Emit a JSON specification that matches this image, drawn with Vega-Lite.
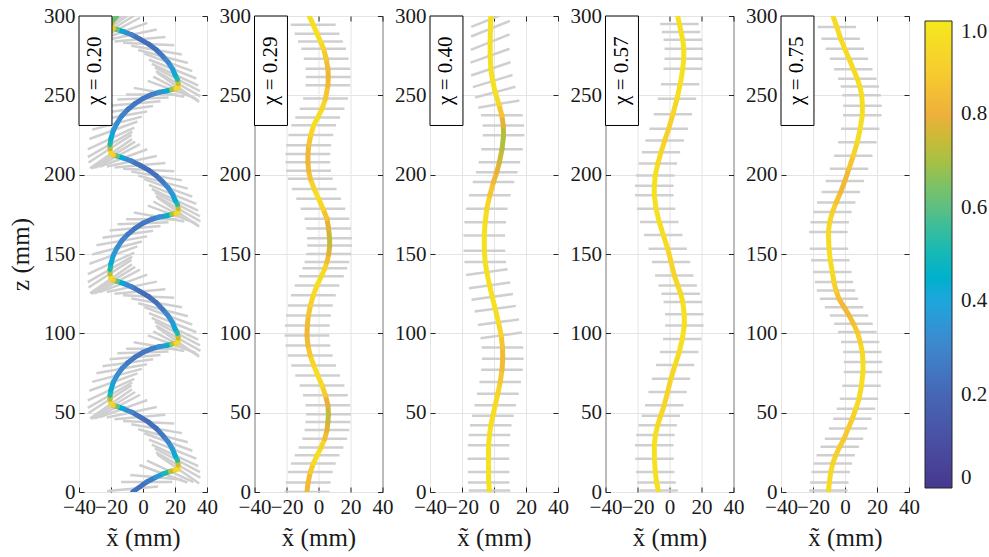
{
"$schema": "https://vega.github.io/schema/vega-lite/v6.json",
"background": "white",
"padding": {"left": 8, "top": 4, "right": 2, "bottom": 2},
"config": {
  "font": "Liberation Serif, Times New Roman, Times, DejaVu Serif, serif",
  "view": {"stroke": "#262626", "strokeWidth": 1},
  "axis": {"labelFont": "Liberation Serif, Times New Roman, Times, DejaVu Serif, serif", "labelFontSize": 21, "labelColor": "#1a1a1a", "titleFont": "Liberation Serif, Times New Roman, Times, DejaVu Serif, serif", "titleFontSize": 25, "titleFontWeight": "normal", "titleColor": "#1a1a1a", "gridColor": "#e4e4e4", "gridWidth": 1, "domain": false, "tickColor": "#262626", "tickSize": -5, "labelPadding": 9, "labelFlush": false, "labelOverlap": false},
  "legend": {"labelFont": "Liberation Serif, Times New Roman, Times, DejaVu Serif, serif", "labelFontSize": 21, "labelColor": "#1a1a1a"},
  "text": {"font": "Liberation Serif, Times New Roman, Times, DejaVu Serif, serif"}
},
"datasets": {
"c1": [
{"x":-6.5,"z":0,"x2":2.3,"z2":6.3,"c":0.23},{"x":2.3,"z":6.3,"x2":8,"z2":9.3,"c":0.27},{"x":8,"z":9.3,"x2":12.7,"z2":11.5,"c":0.36},{"x":12.7,"z":11.5,"x2":17,"z2":13,"c":0.51},{"x":17,"z":13,"x2":20,"z2":13.8,"c":0.72},{"x":20,"z":13.8,"x2":22,"z2":14.5,"c":0.92},
{"x":22,"z":14.5,"x2":22,"z2":17,"c":0.95},{"x":22,"z":17,"x2":21.5,"z2":20,"c":0.75},{"x":21.5,"z":20,"x2":20,"z2":23.1,"c":0.52},{"x":20,"z":23.1,"x2":18.5,"z2":27,"c":0.41},{"x":18.5,"z":27,"x2":15.8,"z2":31.5,"c":0.35},{"x":15.8,"z":31.5,"x2":12.5,"z2":35.5,"c":0.3},{"x":12.5,"z":35.5,"x2":8.5,"z2":39.9,"c":0.26},{"x":8.5,"z":39.9,"x2":3.5,"z2":44,"c":0.23},{"x":3.5,"z":44,"x2":-1.9,"z2":47.3,"c":0.22},{"x":-1.9,"z":47.3,"x2":-7,"z2":50.3,"c":0.24},{"x":-7,"z":50.3,"x2":-12.3,"z2":52.5,"c":0.3},{"x":-12.3,"z":52.5,"x2":-16,"z2":53.8,"c":0.42},{"x":-16,"z":53.8,"x2":-18.5,"z2":54.5,"c":0.62},{"x":-18.5,"z":54.5,"x2":-20,"z2":55.5,"c":0.88},
{"x":-20,"z":55.5,"x2":-20.6,"z2":58.5,"c":0.92},{"x":-20.6,"z":58.5,"x2":-20.6,"z2":61,"c":0.72},{"x":-20.6,"z":61,"x2":-20,"z2":64.5,"c":0.52},{"x":-20,"z":64.5,"x2":-18.5,"z2":69.3,"c":0.41},{"x":-18.5,"z":69.3,"x2":-16.2,"z2":73.5,"c":0.36},{"x":-16.2,"z":73.5,"x2":-13.3,"z2":77.7,"c":0.32},{"x":-13.3,"z":77.7,"x2":-9.5,"z2":81.5,"c":0.29},{"x":-9.5,"z":81.5,"x2":-5,"z2":85,"c":0.26},{"x":-5,"z":85,"x2":0,"z2":88,"c":0.25},{"x":0,"z":88,"x2":5.4,"z2":90.3,"c":0.26},{"x":5.4,"z":90.3,"x2":10,"z2":91.6,"c":0.28},{"x":10,"z":91.6,"x2":14.8,"z2":92.4,"c":0.34},{"x":14.8,"z":92.4,"x2":18,"z2":93.2,"c":0.46},{"x":18,"z":93.2,"x2":20.5,"z2":93.8,"c":0.7},{"x":20.5,"z":93.8,"x2":22,"z2":94.5,"c":0.92},
{"x":22,"z":94.5,"x2":22,"z2":96.9,"c":0.95},{"x":22,"z":96.9,"x2":21.5,"z2":99.9,"c":0.75},{"x":21.5,"z":99.9,"x2":20,"z2":102.9,"c":0.52},{"x":20,"z":102.9,"x2":18.5,"z2":106.7,"c":0.41},{"x":18.5,"z":106.7,"x2":15.8,"z2":111,"c":0.35},{"x":15.8,"z":111,"x2":12.5,"z2":114.9,"c":0.3},{"x":12.5,"z":114.9,"x2":8.5,"z2":119.2,"c":0.26},{"x":8.5,"z":119.2,"x2":3.5,"z2":123.2,"c":0.23},{"x":3.5,"z":123.2,"x2":-1.9,"z2":126.4,"c":0.22},{"x":-1.9,"z":126.4,"x2":-7,"z2":129.3,"c":0.24},{"x":-7,"z":129.3,"x2":-12.3,"z2":131.5,"c":0.3},{"x":-12.3,"z":131.5,"x2":-16,"z2":132.7,"c":0.42},{"x":-16,"z":132.7,"x2":-18.5,"z2":133.4,"c":0.62},{"x":-18.5,"z":133.4,"x2":-20,"z2":134.4,"c":0.88},
{"x":-20,"z":134.4,"x2":-20.6,"z2":137.6,"c":0.92},{"x":-20.6,"z":137.6,"x2":-20.6,"z2":140.3,"c":0.72},{"x":-20.6,"z":140.3,"x2":-20,"z2":144.1,"c":0.52},{"x":-20,"z":144.1,"x2":-18.5,"z2":149.3,"c":0.41},{"x":-18.5,"z":149.3,"x2":-16.2,"z2":153.8,"c":0.36},{"x":-16.2,"z":153.8,"x2":-13.3,"z2":158.3,"c":0.32},{"x":-13.3,"z":158.3,"x2":-9.5,"z2":162.4,"c":0.29},{"x":-9.5,"z":162.4,"x2":-5,"z2":166.2,"c":0.26},{"x":-5,"z":166.2,"x2":0,"z2":169.4,"c":0.25},{"x":0,"z":169.4,"x2":5.4,"z2":171.9,"c":0.26},{"x":5.4,"z":171.9,"x2":10,"z2":173.3,"c":0.28},{"x":10,"z":173.3,"x2":14.8,"z2":174.1,"c":0.34},{"x":14.8,"z":174.1,"x2":18,"z2":175,"c":0.46},{"x":18,"z":175,"x2":20.5,"z2":175.6,"c":0.7},{"x":20.5,"z":175.6,"x2":22,"z2":176.4,"c":0.92},
{"x":22,"z":176.4,"x2":22,"z2":178.6,"c":0.95},{"x":22,"z":178.6,"x2":21.5,"z2":181.3,"c":0.75},{"x":21.5,"z":181.3,"x2":20,"z2":184.1,"c":0.52},{"x":20,"z":184.1,"x2":18.5,"z2":187.6,"c":0.41},{"x":18.5,"z":187.6,"x2":15.8,"z2":191.7,"c":0.35},{"x":15.8,"z":191.7,"x2":12.5,"z2":195.3,"c":0.3},{"x":12.5,"z":195.3,"x2":8.5,"z2":199.2,"c":0.26},{"x":8.5,"z":199.2,"x2":3.5,"z2":202.9,"c":0.23},{"x":3.5,"z":202.9,"x2":-1.9,"z2":205.9,"c":0.22},{"x":-1.9,"z":205.9,"x2":-7,"z2":208.5,"c":0.24},{"x":-7,"z":208.5,"x2":-12.3,"z2":210.5,"c":0.3},{"x":-12.3,"z":210.5,"x2":-16,"z2":211.7,"c":0.42},{"x":-16,"z":211.7,"x2":-18.5,"z2":212.3,"c":0.62},{"x":-18.5,"z":212.3,"x2":-20,"z2":213.2,"c":0.88},
{"x":-20,"z":213.2,"x2":-20.6,"z2":216.4,"c":0.92},{"x":-20.6,"z":216.4,"x2":-20.6,"z2":219.1,"c":0.72},{"x":-20.6,"z":219.1,"x2":-20,"z2":222.8,"c":0.52},{"x":-20,"z":222.8,"x2":-18.5,"z2":228,"c":0.41},{"x":-18.5,"z":228,"x2":-16.2,"z2":232.5,"c":0.36},{"x":-16.2,"z":232.5,"x2":-13.3,"z2":237,"c":0.32},{"x":-13.3,"z":237,"x2":-9.5,"z2":241.1,"c":0.29},{"x":-9.5,"z":241.1,"x2":-5,"z2":244.8,"c":0.26},{"x":-5,"z":244.8,"x2":0,"z2":248,"c":0.25},{"x":0,"z":248,"x2":5.4,"z2":250.5,"c":0.26},{"x":5.4,"z":250.5,"x2":10,"z2":251.9,"c":0.28},{"x":10,"z":251.9,"x2":14.8,"z2":252.8,"c":0.34},{"x":14.8,"z":252.8,"x2":18,"z2":253.6,"c":0.46},{"x":18,"z":253.6,"x2":20.5,"z2":254.3,"c":0.7},{"x":20.5,"z":254.3,"x2":22,"z2":255,"c":0.92},
{"x":22,"z":255,"x2":22,"z2":257.3,"c":0.95},{"x":22,"z":257.3,"x2":21.5,"z2":260.1,"c":0.75},{"x":21.5,"z":260.1,"x2":20,"z2":263,"c":0.52},{"x":20,"z":263,"x2":18.5,"z2":266.6,"c":0.41},{"x":18.5,"z":266.6,"x2":15.8,"z2":270.8,"c":0.35},{"x":15.8,"z":270.8,"x2":12.5,"z2":274.5,"c":0.3},{"x":12.5,"z":274.5,"x2":8.5,"z2":278.5,"c":0.26},{"x":8.5,"z":278.5,"x2":3.5,"z2":282.3,"c":0.23},{"x":3.5,"z":282.3,"x2":-1.9,"z2":285.4,"c":0.22},{"x":-1.9,"z":285.4,"x2":-7,"z2":288.2,"c":0.24},{"x":-7,"z":288.2,"x2":-12.3,"z2":290.2,"c":0.3},{"x":-12.3,"z":290.2,"x2":-16,"z2":291.4,"c":0.42},{"x":-16,"z":291.4,"x2":-18.5,"z2":292.1,"c":0.62},{"x":-18.5,"z":292.1,"x2":-20,"z2":293,"c":0.88},
{"x":-20,"z":293,"x2":-19.5,"z2":295.5,"c":0.9},{"x":-19.5,"z":295.5,"x2":-18,"z2":298,"c":0.72},{"x":-18,"z":298,"x2":-16.5,"z2":300,"c":0.62}
],
"g1": [
{"x":-22.4,"z":0.6,"x2":9.4,"z2":3.4},{"x":-13.7,"z":6.3,"x2":18.3,"z2":6.3},{"x":-8,"z":10.7,"x2":24,"z2":7.9},{"x":-2.3,"z":17,"x2":27.7,"z2":6},{"x":2.5,"z":19.8,"x2":31.5,"z2":6.2},
{"x":8.9,"z":23.7,"x2":35.1,"z2":5.3},{"x":8.1,"z":25,"x2":35.9,"z2":9},{"x":5.5,"z":29.9,"x2":34.5,"z2":16.3},{"x":0.8,"z":37,"x2":30.8,"z2":26},{"x":-7.3,"z":42.7,"x2":24.3,"z2":37.1},{"x":-17.8,"z":45.9,"x2":14,"z2":48.7},{"x":-27.3,"z":47,"x2":2.7,"z2":58},{"x":-33.1,"z":46.3,"x2":-6.9,"z2":64.7},
{"x":7.4,"z":27.5,"x2":35.6,"z2":12.5},{"x":3.7,"z":33,"x2":33.3,"z2":21},{"x":-3,"z":39.6,"x2":28,"z2":31.4},{"x":-12.5,"z":44.8,"x2":19.5,"z2":43.2},{"x":-22.6,"z":47,"x2":8.6,"z2":53.6},{"x":-30.1,"z":46.3,"x2":-1.9,"z2":61.3},{"x":-32.1,"z":46,"x2":-4.9,"z2":63},
{"x":-34.5,"z":53,"x2":-6.7,"z2":69},{"x":-33.5,"z":63.8,"x2":-3.5,"z2":74.8},{"x":-29.1,"z":74.9,"x2":2.5,"z2":80.5},{"x":-20.9,"z":83.6,"x2":10.9,"z2":86.4},{"x":-10.6,"z":90.3,"x2":21.4,"z2":90.3},{"x":3,"z":98.7,"x2":33,"z2":87.7},
{"x":-34,"z":49.8,"x2":-7.2,"z2":67.2},{"x":-34.5,"z":57.7,"x2":-5.5,"z2":71.3},{"x":-31.7,"z":69.4,"x2":-0.7,"z2":77.6},{"x":-25.3,"z":79.3,"x2":6.3,"z2":83.7},{"x":-16,"z":87.4,"x2":16,"z2":88.6},{"x":-5.8,"z":94.4,"x2":25.8,"z2":88.8},{"x":6.4,"z":101.3,"x2":34.6,"z2":86.3},
{"x":8.9,"z":103.7,"x2":35.1,"z2":85.3},{"x":8.1,"z":104.9,"x2":35.9,"z2":88.9},{"x":5.5,"z":109.7,"x2":34.5,"z2":96.1},{"x":0.8,"z":116.5,"x2":30.8,"z2":105.5},{"x":-7.3,"z":122,"x2":24.3,"z2":116.4},{"x":-17.8,"z":125,"x2":14,"z2":127.8},{"x":-27.3,"z":126,"x2":2.7,"z2":137},{"x":-33.1,"z":125.2,"x2":-6.9,"z2":143.6},
{"x":7.4,"z":107.4,"x2":35.6,"z2":92.4},{"x":3.7,"z":112.7,"x2":33.3,"z2":100.7},{"x":-3,"z":119,"x2":28,"z2":110.8},{"x":-12.5,"z":124,"x2":19.5,"z2":122.4},{"x":-22.6,"z":126,"x2":8.6,"z2":132.6},{"x":-30.1,"z":125.2,"x2":-1.9,"z2":140.2},{"x":-32.1,"z":124.9,"x2":-4.9,"z2":141.9},
{"x":-34.5,"z":132.3,"x2":-6.7,"z2":148.3},{"x":-33.5,"z":143.8,"x2":-3.5,"z2":154.8},{"x":-29.1,"z":155.5,"x2":2.5,"z2":161.1},{"x":-20.9,"z":164.8,"x2":10.9,"z2":167.6},{"x":-10.6,"z":171.9,"x2":21.4,"z2":171.9},{"x":3,"z":180.5,"x2":33,"z2":169.5},
{"x":-34,"z":128.9,"x2":-7.2,"z2":146.3},{"x":-34.5,"z":137.3,"x2":-5.5,"z2":150.9},{"x":-31.7,"z":149.7,"x2":-0.7,"z2":157.9},{"x":-25.3,"z":160.2,"x2":6.3,"z2":164.6},{"x":-16,"z":168.8,"x2":16,"z2":170},{"x":-5.8,"z":176.1,"x2":25.8,"z2":170.5},{"x":6.4,"z":183.1,"x2":34.6,"z2":168.1},
{"x":8.9,"z":185.6,"x2":35.1,"z2":167.2},{"x":8.1,"z":186.6,"x2":35.9,"z2":170.6},{"x":5.5,"z":190.9,"x2":34.5,"z2":177.3},{"x":0.8,"z":197.2,"x2":30.8,"z2":186.2},{"x":-7.3,"z":202,"x2":24.3,"z2":196.4},{"x":-17.8,"z":204.5,"x2":14,"z2":207.3},{"x":-27.3,"z":205,"x2":2.7,"z2":216},{"x":-33.1,"z":204,"x2":-6.9,"z2":222.4},
{"x":7.4,"z":188.8,"x2":35.6,"z2":173.8},{"x":3.7,"z":193.6,"x2":33.3,"z2":181.6},{"x":-3,"z":199.4,"x2":28,"z2":191.2},{"x":-12.5,"z":203.7,"x2":19.5,"z2":202.1},{"x":-22.6,"z":205.2,"x2":8.6,"z2":211.8},{"x":-30.1,"z":204.2,"x2":-1.9,"z2":219.2},{"x":-32.1,"z":203.8,"x2":-4.9,"z2":220.8},
{"x":-34.5,"z":211.1,"x2":-6.7,"z2":227.1},{"x":-33.5,"z":222.5,"x2":-3.5,"z2":233.5},{"x":-29.1,"z":234.2,"x2":2.5,"z2":239.8},{"x":-20.9,"z":243.4,"x2":10.9,"z2":246.2},{"x":-10.6,"z":250.5,"x2":21.4,"z2":250.5},{"x":3,"z":259.1,"x2":33,"z2":248.1},
{"x":-34,"z":207.7,"x2":-7.2,"z2":225.1},{"x":-34.5,"z":216,"x2":-5.5,"z2":229.6},{"x":-31.7,"z":228.4,"x2":-0.7,"z2":236.6},{"x":-25.3,"z":238.9,"x2":6.3,"z2":243.3},{"x":-16,"z":247.4,"x2":16,"z2":248.6},{"x":-5.8,"z":254.7,"x2":25.8,"z2":249.1},{"x":6.4,"z":261.8,"x2":34.6,"z2":246.8},
{"x":8.9,"z":264.2,"x2":35.1,"z2":245.8},{"x":8.1,"z":265.3,"x2":35.9,"z2":249.3},{"x":5.5,"z":269.8,"x2":34.5,"z2":256.2},{"x":0.8,"z":276.3,"x2":30.8,"z2":265.3},{"x":-7.3,"z":281.3,"x2":24.3,"z2":275.7},{"x":-17.8,"z":284,"x2":14,"z2":286.8},{"x":-27.3,"z":284.7,"x2":2.7,"z2":295.7},{"x":-33.1,"z":283.8,"x2":-6.9,"z2":302.2},
{"x":7.4,"z":267.6,"x2":35.6,"z2":252.6},{"x":3.7,"z":272.6,"x2":33.3,"z2":260.6},{"x":-3,"z":278.6,"x2":28,"z2":270.4},{"x":-12.5,"z":283.1,"x2":19.5,"z2":281.5},{"x":-22.6,"z":284.9,"x2":8.6,"z2":291.5},{"x":-30.1,"z":283.9,"x2":-1.9,"z2":298.9},{"x":-32.1,"z":283.6,"x2":-4.9,"z2":300.6},
{"x":-32.9,"z":286.8,"x2":-6.1,"z2":304.2},{"x":-31.9,"z":290,"x2":-4.1,"z2":306}
],
"c2": [
{"x":-7.2,"z":0,"x2":-6.5,"z2":6,"c":0.83},{"x":-6.5,"z":6,"x2":-5.1,"z2":12.6,"c":0.84},{"x":-5.1,"z":12.6,"x2":-3.2,"z2":18,"c":0.89},{"x":-3.2,"z":18,"x2":-0.9,"z2":23.1,"c":0.94},{"x":-0.9,"z":23.1,"x2":1.6,"z2":28,"c":0.96},{"x":1.6,"z":28,"x2":3.9,"z2":33.6,"c":0.92},{"x":3.9,"z":33.6,"x2":5.3,"z2":39,"c":0.84},{"x":5.3,"z":39,"x2":5.9,"z2":44.1,"c":0.78},{"x":5.9,"z":44.1,"x2":6.2,"z2":49,"c":0.74},{"x":6.2,"z":49,"x2":5.9,"z2":54.6,"c":0.74},{"x":5.9,"z":54.6,"x2":4.3,"z2":61,"c":0.8},{"x":4.3,"z":61,"x2":2.2,"z2":67.2,"c":0.89},{"x":2.2,"z":67.2,"x2":-0.5,"z2":73.5,"c":0.95},{"x":-0.5,"z":73.5,"x2":-3,"z2":79.8,"c":0.96},{"x":-3,"z":79.8,"x2":-5.2,"z2":86,"c":0.93},{"x":-5.2,"z":86,"x2":-6.6,"z2":92.4,"c":0.88},{"x":-6.6,"z":92.4,"x2":-7.2,"z2":98.7,"c":0.84},{"x":-7.2,"z":98.7,"x2":-7,"z2":105,"c":0.82},{"x":-7,"z":105,"x2":-6.3,"z2":111.3,"c":0.84},{"x":-6.3,"z":111.3,"x2":-5.1,"z2":117.6,"c":0.87},{"x":-5.1,"z":117.6,"x2":-3.2,"z2":124,"c":0.91},{"x":-3.2,"z":124,"x2":-0.9,"z2":130.2,"c":0.95},{"x":-0.9,"z":130.2,"x2":1.8,"z2":136,"c":0.96},{"x":1.8,"z":136,"x2":4,"z2":141,"c":0.95},{"x":4,"z":141,"x2":5.3,"z2":145,"c":0.91},{"x":5.3,"z":145,"x2":6.4,"z2":150,"c":0.84},{"x":6.4,"z":150,"x2":7,"z2":155.4,"c":0.78},{"x":7,"z":155.4,"x2":6.9,"z2":160,"c":0.74},{"x":6.9,"z":160,"x2":6.3,"z2":166,"c":0.75},{"x":6.3,"z":166,"x2":5.3,"z2":172.2,"c":0.79},{"x":5.3,"z":172.2,"x2":2.8,"z2":178.5,"c":0.86},{"x":2.8,"z":178.5,"x2":0.1,"z2":184.8,"c":0.93},{"x":0.1,"z":184.8,"x2":-2.7,"z2":191,"c":0.96},{"x":-2.7,"z":191,"x2":-5.1,"z2":197.4,"c":0.92},{"x":-5.1,"z":197.4,"x2":-6.2,"z2":202.5,"c":0.86},{"x":-6.2,"z":202.5,"x2":-6.6,"z2":207.9,"c":0.83},{"x":-6.6,"z":207.9,"x2":-6.6,"z2":213,"c":0.82},{"x":-6.6,"z":213,"x2":-6.1,"z2":218.5,"c":0.83},{"x":-6.1,"z":218.5,"x2":-4.8,"z2":225,"c":0.87},{"x":-4.8,"z":225,"x2":-3,"z2":231.1,"c":0.93},{"x":-3,"z":231.1,"x2":-0.5,"z2":236,"c":0.96},{"x":-0.5,"z":236,"x2":2.2,"z2":241.5,"c":0.96},{"x":2.2,"z":241.5,"x2":4.4,"z2":248,"c":0.93},{"x":4.4,"z":248,"x2":5.9,"z2":256.3,"c":0.87},{"x":5.9,"z":256.3,"x2":6.1,"z2":261.5,"c":0.83},{"x":6.1,"z":261.5,"x2":5.9,"z2":266.7,"c":0.82},{"x":5.9,"z":266.7,"x2":4.8,"z2":273,"c":0.84},{"x":4.8,"z":273,"x2":3.2,"z2":279.3,"c":0.88},{"x":3.2,"z":279.3,"x2":1.2,"z2":284,"c":0.93},{"x":1.2,"z":284,"x2":-0.9,"z2":288.8,"c":0.96},{"x":-0.9,"z":288.8,"x2":-3.3,"z2":294.5,"c":0.97},{"x":-3.3,"z":294.5,"x2":-5.8,"z2":300,"c":0.96}
],
"g2": [
{"x":-21.2,"z":0,"x2":6.8,"z2":0},{"x":-20.5,"z":6,"x2":7.5,"z2":6},{"x":-19.1,"z":12.6,"x2":8.9,"z2":12.6},{"x":-17.2,"z":18,"x2":10.8,"z2":18},{"x":-14.9,"z":23.1,"x2":13.1,"z2":23.1},{"x":-12.4,"z":28,"x2":15.6,"z2":28},{"x":-10.1,"z":33.6,"x2":17.9,"z2":33.6},{"x":-8.7,"z":39,"x2":19.3,"z2":39},{"x":-8.1,"z":44.1,"x2":19.9,"z2":44.1},{"x":-7.8,"z":49,"x2":20.2,"z2":49},{"x":-8.1,"z":54.6,"x2":19.9,"z2":54.6},{"x":-9.7,"z":61,"x2":18.3,"z2":61},{"x":-11.8,"z":67.2,"x2":16.2,"z2":67.2},{"x":-14.5,"z":73.5,"x2":13.5,"z2":73.5},{"x":-17,"z":79.8,"x2":11,"z2":79.8},{"x":-19.2,"z":86,"x2":8.8,"z2":86},{"x":-20.6,"z":92.4,"x2":7.4,"z2":92.4},{"x":-21.2,"z":98.7,"x2":6.8,"z2":98.7},{"x":-21,"z":105,"x2":7,"z2":105},{"x":-20.3,"z":111.3,"x2":7.7,"z2":111.3},{"x":-19.1,"z":117.6,"x2":8.9,"z2":117.6},{"x":-17.2,"z":124,"x2":10.8,"z2":124},{"x":-14.9,"z":130.2,"x2":13.1,"z2":130.2},{"x":-12.2,"z":136,"x2":15.8,"z2":136},{"x":-10,"z":141,"x2":18,"z2":141},{"x":-8.7,"z":145,"x2":19.3,"z2":145},{"x":-7.6,"z":150,"x2":20.4,"z2":150},{"x":-7,"z":155.4,"x2":21,"z2":155.4},{"x":-7.1,"z":160,"x2":20.9,"z2":160},{"x":-7.7,"z":166,"x2":20.3,"z2":166},{"x":-8.7,"z":172.2,"x2":19.3,"z2":172.2},{"x":-11.2,"z":178.5,"x2":16.8,"z2":178.5},{"x":-13.9,"z":184.8,"x2":14.1,"z2":184.8},{"x":-16.7,"z":191,"x2":11.3,"z2":191},{"x":-19.1,"z":197.4,"x2":8.9,"z2":197.4},{"x":-20.2,"z":202.5,"x2":7.8,"z2":202.5},{"x":-20.6,"z":207.9,"x2":7.4,"z2":207.9},{"x":-20.6,"z":213,"x2":7.4,"z2":213},{"x":-20.1,"z":218.5,"x2":7.9,"z2":218.5},{"x":-18.8,"z":225,"x2":9.2,"z2":225},{"x":-17,"z":231.1,"x2":11,"z2":231.1},{"x":-14.5,"z":236,"x2":13.5,"z2":236},{"x":-11.8,"z":241.5,"x2":16.2,"z2":241.5},{"x":-9.6,"z":248,"x2":18.4,"z2":248},{"x":-8.1,"z":256.3,"x2":19.9,"z2":256.3},{"x":-7.9,"z":261.5,"x2":20.1,"z2":261.5},{"x":-8.1,"z":266.7,"x2":19.9,"z2":266.7},{"x":-9.2,"z":273,"x2":18.8,"z2":273},{"x":-10.8,"z":279.3,"x2":17.2,"z2":279.3},{"x":-12.8,"z":284,"x2":15.2,"z2":284},{"x":-14.9,"z":288.8,"x2":13.1,"z2":288.8},{"x":-17.3,"z":294.5,"x2":10.7,"z2":294.5}
],
"c3": [
{"x":-2.8,"z":0,"x2":-3.3,"z2":6,"c":0.97},{"x":-3.3,"z":6,"x2":-3.4,"z2":12.6,"c":0.97},{"x":-3.4,"z":12.6,"x2":-3.5,"z2":21,"c":0.97},{"x":-3.5,"z":21,"x2":-3.4,"z2":29.4,"c":0.97},{"x":-3.4,"z":29.4,"x2":-2.8,"z2":36,"c":0.97},{"x":-2.8,"z":36,"x2":-2,"z2":42,"c":0.97},{"x":-2,"z":42,"x2":-0.7,"z2":48,"c":0.965},{"x":-0.7,"z":48,"x2":0.75,"z2":54.6,"c":0.955},{"x":0.75,"z":54.6,"x2":2.4,"z2":62,"c":0.945},{"x":2.4,"z":62,"x2":3.9,"z2":69.3,"c":0.92},{"x":3.9,"z":69.3,"x2":5,"z2":77,"c":0.875},{"x":5,"z":77,"x2":5.5,"z2":84,"c":0.835},{"x":5.5,"z":84,"x2":5.3,"z2":91,"c":0.83},{"x":5.3,"z":91,"x2":4.5,"z2":98.7,"c":0.87},{"x":4.5,"z":98.7,"x2":2.8,"z2":107,"c":0.925},{"x":2.8,"z":107,"x2":0.75,"z2":115.5,"c":0.96},{"x":0.75,"z":115.5,"x2":-1.1,"z2":123,"c":0.97},{"x":-1.1,"z":123,"x2":-2.8,"z2":130.2,"c":0.97},{"x":-2.8,"z":130.2,"x2":-4.5,"z2":138.6,"c":0.97},{"x":-4.5,"z":138.6,"x2":-5.5,"z2":145,"c":0.97},{"x":-5.5,"z":145,"x2":-6,"z2":152,"c":0.97},{"x":-6,"z":152,"x2":-6.1,"z2":161.7,"c":0.97},{"x":-6.1,"z":161.7,"x2":-5.5,"z2":170,"c":0.97},{"x":-5.5,"z":170,"x2":-4.5,"z2":178.5,"c":0.96},{"x":-4.5,"z":178.5,"x2":-2.6,"z2":187,"c":0.925},{"x":-2.6,"z":187,"x2":-0.3,"z2":195.3,"c":0.87},{"x":-0.3,"z":195.3,"x2":1.7,"z2":201.5,"c":0.82},{"x":1.7,"z":201.5,"x2":3.4,"z2":207.9,"c":0.79},{"x":3.4,"z":207.9,"x2":5,"z2":216,"c":0.75},{"x":5,"z":216,"x2":6,"z2":224.8,"c":0.71},{"x":6,"z":224.8,"x2":5.8,"z2":231,"c":0.725},{"x":5.8,"z":231,"x2":4.9,"z2":237.4,"c":0.785},{"x":4.9,"z":237.4,"x2":3,"z2":244.5,"c":0.87},{"x":3,"z":244.5,"x2":0.75,"z2":252,"c":0.945},{"x":0.75,"z":252,"x2":-0.8,"z2":259,"c":0.97},{"x":-0.8,"z":259,"x2":-2,"z2":266.7,"c":0.97},{"x":-2,"z":266.7,"x2":-2.4,"z2":275,"c":0.97},{"x":-2.4,"z":275,"x2":-2.4,"z2":283.5,"c":0.97},{"x":-2.4,"z":283.5,"x2":-2.2,"z2":292,"c":0.97},{"x":-2.2,"z":292,"x2":-2,"z2":300,"c":0.97}
],
"g3": [
{"x":-15.8,"z":1,"x2":10.2,"z2":1},{"x":-16.3,"z":6,"x2":9.7,"z2":6},{"x":-16.4,"z":12.6,"x2":9.6,"z2":12.6},{"x":-16.5,"z":21,"x2":9.5,"z2":21},{"x":-16.4,"z":29.4,"x2":9.6,"z2":29.4},{"x":-15.8,"z":36,"x2":10.2,"z2":36},{"x":-15,"z":42,"x2":11,"z2":42},{"x":-13.7,"z":48,"x2":12.3,"z2":48},{"x":-12.25,"z":54.6,"x2":13.75,"z2":54.6},{"x":-10.6,"z":62,"x2":15.4,"z2":62},{"x":-9.1,"z":69.3,"x2":16.9,"z2":69.3},{"x":-8,"z":77,"x2":18,"z2":77},{"x":-7.5,"z":84,"x2":18.5,"z2":84},{"x":-7.7,"z":91,"x2":18.3,"z2":91},
{"x":-8.4,"z":96.9,"x2":17.4,"z2":100.5},{"x":-10.1,"z":105.2,"x2":15.7,"z2":108.8},{"x":-12.15,"z":113.7,"x2":13.65,"z2":117.3},{"x":-14,"z":121.2,"x2":11.8,"z2":124.8},{"x":-15.7,"z":128.4,"x2":10.1,"z2":132},{"x":-17.4,"z":136.8,"x2":8.4,"z2":140.4},
{"x":-18.5,"z":145,"x2":7.5,"z2":145},{"x":-19,"z":152,"x2":7,"z2":152},{"x":-19.1,"z":161.7,"x2":6.9,"z2":161.7},{"x":-18.5,"z":170,"x2":7.5,"z2":170},{"x":-17.5,"z":178.5,"x2":8.5,"z2":178.5},{"x":-15.6,"z":187,"x2":10.4,"z2":187},{"x":-13.3,"z":195.3,"x2":12.7,"z2":195.3},{"x":-11.3,"z":201.5,"x2":14.7,"z2":201.5},{"x":-9.6,"z":207.9,"x2":16.4,"z2":207.9},{"x":-8,"z":216,"x2":18,"z2":216},{"x":-7,"z":224.8,"x2":19,"z2":224.8},{"x":-7.2,"z":231,"x2":18.8,"z2":231},{"x":-8.1,"z":237.4,"x2":17.9,"z2":237.4},
{"x":-9.8,"z":242.2,"x2":15.8,"z2":246.8},{"x":-11.85,"z":248.6,"x2":13.35,"z2":255.4},{"x":-13.2,"z":255.2,"x2":11.6,"z2":262.8},{"x":-14.3,"z":262.5,"x2":10.3,"z2":270.9},{"x":-14.6,"z":270.6,"x2":9.8,"z2":279.4},{"x":-14.5,"z":278.6,"x2":9.7,"z2":288.4},{"x":-14.3,"z":287.1,"x2":9.9,"z2":296.9},{"x":-14.2,"z":293.1,"x2":10,"z2":302.9}
],
"c4": [
{"x":-6.8,"z":0,"x2":-8.1,"z2":6,"c":0.97},{"x":-8.1,"z":6,"x2":-8.9,"z2":12.6,"c":0.97},{"x":-8.9,"z":12.6,"x2":-9.4,"z2":21,"c":0.97},{"x":-9.4,"z":21,"x2":-9.5,"z2":29.4,"c":0.97},{"x":-9.5,"z":29.4,"x2":-8.8,"z2":36,"c":0.97},{"x":-8.8,"z":36,"x2":-7.4,"z2":42,"c":0.96},{"x":-7.4,"z":42,"x2":-5.5,"z2":48,"c":0.95},{"x":-5.5,"z":48,"x2":-3.3,"z2":54.6,"c":0.93},{"x":-3.3,"z":54.6,"x2":-1.2,"z2":63,"c":0.92},{"x":-1.2,"z":63,"x2":0.9,"z2":71.4,"c":0.92},{"x":0.9,"z":71.4,"x2":3.5,"z2":80,"c":0.93},{"x":3.5,"z":80,"x2":6.1,"z2":88.2,"c":0.95},{"x":6.1,"z":88.2,"x2":8,"z2":96.5,"c":0.96},{"x":8,"z":96.5,"x2":9.3,"z2":105,"c":0.97},{"x":9.3,"z":105,"x2":9.2,"z2":112,"c":0.97},{"x":9.2,"z":112,"x2":8.3,"z2":119.7,"c":0.97},{"x":8.3,"z":119.7,"x2":7,"z2":125,"c":0.96},{"x":7,"z":125,"x2":5.1,"z2":130.2,"c":0.95},{"x":5.1,"z":130.2,"x2":3,"z2":136.5,"c":0.93},{"x":3,"z":136.5,"x2":1,"z2":145,"c":0.92},{"x":1,"z":145,"x2":-1.1,"z2":153.3,"c":0.93},{"x":-1.1,"z":153.3,"x2":-3.9,"z2":162,"c":0.95},{"x":-3.9,"z":162,"x2":-6.4,"z2":170.1,"c":0.96},{"x":-6.4,"z":170.1,"x2":-8.4,"z2":178.5,"c":0.97},{"x":-8.4,"z":178.5,"x2":-9.5,"z2":187,"c":0.97},{"x":-9.5,"z":187,"x2":-9.5,"z2":193,"c":0.97},{"x":-9.5,"z":193,"x2":-8.9,"z2":199.5,"c":0.97},{"x":-8.9,"z":199.5,"x2":-7.3,"z2":207,"c":0.97},{"x":-7.3,"z":207,"x2":-5.3,"z2":214.2,"c":0.95},{"x":-5.3,"z":214.2,"x2":-3,"z2":221.5,"c":0.93},{"x":-3,"z":221.5,"x2":-0.5,"z2":228.9,"c":0.9},{"x":-0.5,"z":228.9,"x2":2.1,"z2":238,"c":0.9},{"x":2.1,"z":238,"x2":4.7,"z2":247.8,"c":0.93},{"x":4.7,"z":247.8,"x2":6.7,"z2":257,"c":0.96},{"x":6.7,"z":257,"x2":8.3,"z2":266.7,"c":0.97},{"x":8.3,"z":266.7,"x2":8.9,"z2":273,"c":0.97},{"x":8.9,"z":273,"x2":8.9,"z2":279.3,"c":0.97},{"x":8.9,"z":279.3,"x2":8.3,"z2":285,"c":0.97},{"x":8.3,"z":285,"x2":7.2,"z2":289.9,"c":0.97},{"x":7.2,"z":289.9,"x2":6.2,"z2":295,"c":0.97},{"x":6.2,"z":295,"x2":5.1,"z2":300,"c":0.97}
],
"g4": [
{"x":-18.8,"z":1,"x2":5.2,"z2":1},{"x":-20.1,"z":6,"x2":3.9,"z2":6},{"x":-20.9,"z":12.6,"x2":3.1,"z2":12.6},{"x":-21.4,"z":21,"x2":2.6,"z2":21},{"x":-21.5,"z":29.4,"x2":2.5,"z2":29.4},{"x":-20.8,"z":36,"x2":3.2,"z2":36},{"x":-19.4,"z":42,"x2":4.6,"z2":42},{"x":-17.5,"z":48,"x2":6.5,"z2":48},{"x":-15.3,"z":54.6,"x2":8.7,"z2":54.6},{"x":-13.2,"z":63,"x2":10.8,"z2":63},{"x":-11.1,"z":71.4,"x2":12.9,"z2":71.4},{"x":-8.5,"z":80,"x2":15.5,"z2":80},{"x":-5.9,"z":88.2,"x2":18.1,"z2":88.2},{"x":-4,"z":96.5,"x2":20,"z2":96.5},{"x":-2.7,"z":105,"x2":21.3,"z2":105},{"x":-2.8,"z":112,"x2":21.2,"z2":112},{"x":-3.7,"z":119.7,"x2":20.3,"z2":119.7},{"x":-5,"z":125,"x2":19,"z2":125},{"x":-6.9,"z":130.2,"x2":17.1,"z2":130.2},{"x":-9,"z":136.5,"x2":15,"z2":136.5},{"x":-11,"z":145,"x2":13,"z2":145},{"x":-13.1,"z":153.3,"x2":10.9,"z2":153.3},{"x":-15.9,"z":162,"x2":8.1,"z2":162},{"x":-18.4,"z":170.1,"x2":5.6,"z2":170.1},{"x":-20.4,"z":178.5,"x2":3.6,"z2":178.5},{"x":-21.5,"z":187,"x2":2.5,"z2":187},{"x":-21.5,"z":193,"x2":2.5,"z2":193},{"x":-20.9,"z":199.5,"x2":3.1,"z2":199.5},{"x":-19.3,"z":207,"x2":4.7,"z2":207},{"x":-17.3,"z":214.2,"x2":6.7,"z2":214.2},{"x":-15,"z":221.5,"x2":9,"z2":221.5},{"x":-12.5,"z":228.9,"x2":11.5,"z2":228.9},{"x":-9.9,"z":238,"x2":14.1,"z2":238},{"x":-7.3,"z":247.8,"x2":16.7,"z2":247.8},{"x":-5.3,"z":257,"x2":18.7,"z2":257},{"x":-3.7,"z":266.7,"x2":20.3,"z2":266.7},{"x":-3.1,"z":273,"x2":20.9,"z2":273},{"x":-3.1,"z":279.3,"x2":20.9,"z2":279.3},{"x":-3.7,"z":285,"x2":20.3,"z2":285},{"x":-4.8,"z":289.9,"x2":19.2,"z2":289.9},{"x":-5.8,"z":295,"x2":18.2,"z2":295}
],
"c5": [
{"x":-10.4,"z":0,"x2":-9.8,"z2":6,"c":0.95},{"x":-9.8,"z":6,"x2":-8.9,"z2":12.6,"c":0.95},{"x":-8.9,"z":12.6,"x2":-7.6,"z2":18,"c":0.94},{"x":-7.6,"z":18,"x2":-5.8,"z2":23.1,"c":0.92},{"x":-5.8,"z":23.1,"x2":-3.3,"z2":28.5,"c":0.9},{"x":-3.3,"z":28.5,"x2":-0.6,"z2":33.6,"c":0.89},{"x":-0.6,"z":33.6,"x2":2,"z2":40,"c":0.88},{"x":2,"z":40,"x2":4.6,"z2":46.2,"c":0.89},{"x":4.6,"z":46.2,"x2":6.8,"z2":52.5,"c":0.91},{"x":6.8,"z":52.5,"x2":8.75,"z2":58.8,"c":0.94},{"x":8.75,"z":58.8,"x2":10.3,"z2":67,"c":0.95},{"x":10.3,"z":67,"x2":11.25,"z2":75.6,"c":0.96},{"x":11.25,"z":75.6,"x2":11.3,"z2":82,"c":0.96},{"x":11.3,"z":82,"x2":10.8,"z2":88.2,"c":0.95},{"x":10.8,"z":88.2,"x2":9.5,"z2":94.5,"c":0.94},{"x":9.5,"z":94.5,"x2":7.7,"z2":100.8,"c":0.91},{"x":7.7,"z":100.8,"x2":5.3,"z2":106,"c":0.88},{"x":5.3,"z":106,"x2":2.5,"z2":111.3,"c":0.85},{"x":2.5,"z":111.3,"x2":-0.6,"z2":116.5,"c":0.83},{"x":-0.6,"z":116.5,"x2":-3.75,"z2":121.8,"c":0.83},{"x":-3.75,"z":121.8,"x2":-5.6,"z2":127,"c":0.86},{"x":-5.6,"z":127,"x2":-6.9,"z2":132.3,"c":0.9},{"x":-6.9,"z":132.3,"x2":-7.9,"z2":138.6,"c":0.93},{"x":-7.9,"z":138.6,"x2":-9.2,"z2":146,"c":0.95},{"x":-9.2,"z":146,"x2":-10,"z2":153.3,"c":0.96},{"x":-10,"z":153.3,"x2":-10.4,"z2":163.8,"c":0.95},{"x":-10.4,"z":163.8,"x2":-9.6,"z2":170,"c":0.94},{"x":-9.6,"z":170,"x2":-7.9,"z2":176.4,"c":0.93},{"x":-7.9,"z":176.4,"x2":-5.5,"z2":182.5,"c":0.9},{"x":-5.5,"z":182.5,"x2":-2.7,"z2":189,"c":0.86},{"x":-2.7,"z":189,"x2":-0.1,"z2":196,"c":0.83},{"x":-0.1,"z":196,"x2":2.5,"z2":203.7,"c":0.83},{"x":2.5,"z":203.7,"x2":5.2,"z2":212,"c":0.87},{"x":5.2,"z":212,"x2":7.7,"z2":220.5,"c":0.92},{"x":7.7,"z":220.5,"x2":9.5,"z2":229,"c":0.95},{"x":9.5,"z":229,"x2":10.8,"z2":237.4,"c":0.96},{"x":10.8,"z":237.4,"x2":10.9,"z2":243.5,"c":0.96},{"x":10.9,"z":243.5,"x2":10.4,"z2":250,"c":0.96},{"x":10.4,"z":250,"x2":9.3,"z2":255.5,"c":0.96},{"x":9.3,"z":255.5,"x2":7.7,"z2":260.4,"c":0.96},{"x":7.7,"z":260.4,"x2":5.2,"z2":266.5,"c":0.95},{"x":5.2,"z":266.5,"x2":2.5,"z2":273,"c":0.95},{"x":2.5,"z":273,"x2":-0.1,"z2":279.3,"c":0.95},{"x":-0.1,"z":279.3,"x2":-2.7,"z2":285.6,"c":0.95},{"x":-2.7,"z":285.6,"x2":-5.1,"z2":293,"c":0.95},{"x":-5.1,"z":293,"x2":-7.5,"z2":300,"c":0.94}
],
"g5": [
{"x":-22.4,"z":1,"x2":1.6,"z2":1},{"x":-21.8,"z":6,"x2":2.2,"z2":6},{"x":-20.9,"z":12.6,"x2":3.1,"z2":12.6},{"x":-19.6,"z":18,"x2":4.4,"z2":18},{"x":-17.8,"z":23.1,"x2":6.2,"z2":23.1},{"x":-15.3,"z":28.5,"x2":8.7,"z2":28.5},{"x":-12.6,"z":33.6,"x2":11.4,"z2":33.6},{"x":-10,"z":40,"x2":14,"z2":40},{"x":-7.4,"z":46.2,"x2":16.6,"z2":46.2},{"x":-5.2,"z":52.5,"x2":18.8,"z2":52.5},{"x":-3.25,"z":58.8,"x2":20.75,"z2":58.8},{"x":-1.7,"z":67,"x2":22.3,"z2":67},{"x":-0.75,"z":75.6,"x2":23.25,"z2":75.6},{"x":-0.7,"z":82,"x2":23.3,"z2":82},{"x":-1.2,"z":88.2,"x2":22.8,"z2":88.2},{"x":-2.5,"z":94.5,"x2":21.5,"z2":94.5},{"x":-4.3,"z":100.8,"x2":19.7,"z2":100.8},{"x":-6.7,"z":106,"x2":17.3,"z2":106},{"x":-9.5,"z":111.3,"x2":14.5,"z2":111.3},{"x":-12.6,"z":116.5,"x2":11.4,"z2":116.5},{"x":-15.75,"z":121.8,"x2":8.25,"z2":121.8},{"x":-17.6,"z":127,"x2":6.4,"z2":127},{"x":-18.9,"z":132.3,"x2":5.1,"z2":132.3},{"x":-19.9,"z":138.6,"x2":4.1,"z2":138.6},{"x":-21.2,"z":146,"x2":2.8,"z2":146},{"x":-22,"z":153.3,"x2":2,"z2":153.3},{"x":-22.4,"z":163.8,"x2":1.6,"z2":163.8},{"x":-21.6,"z":170,"x2":2.4,"z2":170},{"x":-19.9,"z":176.4,"x2":4.1,"z2":176.4},{"x":-17.5,"z":182.5,"x2":6.5,"z2":182.5},{"x":-14.7,"z":189,"x2":9.3,"z2":189},{"x":-12.1,"z":196,"x2":11.9,"z2":196},{"x":-9.5,"z":203.7,"x2":14.5,"z2":203.7},{"x":-6.8,"z":212,"x2":17.2,"z2":212},{"x":-4.3,"z":220.5,"x2":19.7,"z2":220.5},{"x":-2.5,"z":229,"x2":21.5,"z2":229},{"x":-1.2,"z":237.4,"x2":22.8,"z2":237.4},{"x":-1.1,"z":243.5,"x2":22.9,"z2":243.5},{"x":-1.6,"z":250,"x2":22.4,"z2":250},{"x":-2.7,"z":255.5,"x2":21.3,"z2":255.5},{"x":-4.3,"z":260.4,"x2":19.7,"z2":260.4},{"x":-6.8,"z":266.5,"x2":17.2,"z2":266.5},{"x":-9.5,"z":273,"x2":14.5,"z2":273},{"x":-12.1,"z":279.3,"x2":11.9,"z2":279.3},{"x":-14.7,"z":285.6,"x2":9.3,"z2":285.6},{"x":-17.1,"z":293,"x2":6.9,"z2":293}
]
},
"bounds": "flush",
"spacing": 47.5,
"resolve": {"scale": {"color": "shared"}, "legend": {"color": "shared"}},
"hconcat": [
{"width": 128, "height": 476, "resolve": {"axis": {"x": "independent", "y": "independent"}},
 "layer": [
  {"data": {"name": "g1"}, "mark": {"type": "rule", "stroke": "#cfcfcf", "strokeWidth": 2.5, "clip": true},
   "encoding": {"x": {"field": "x", "type": "quantitative", "scale": {"domain": [-40, 40], "nice": false}, "axis": {"title": "x̃ (mm)", "values": [-40, -20, 0, 20, 40], "grid": true, "titlePadding": 8}},
    "y": {"field": "z", "type": "quantitative", "scale": {"domain": [0, 300], "nice": false}, "axis": {"title": "z (mm)", "values": [0, 50, 100, 150, 200, 250, 300], "grid": true, "titlePadding": 10, "titleFontWeight": "normal"}},
    "x2": {"field": "x2"}, "y2": {"field": "z2"}}},
  {"data": {"name": "c1"}, "mark": {"type": "rule", "strokeWidth": 5, "strokeCap": "round", "clip": true},
   "encoding": {"x": {"field": "x", "type": "quantitative", "axis": {"orient": "top", "labels": false, "title": null, "grid": false, "values": [-40, -20, 0, 20, 40]}},
    "y": {"field": "z", "type": "quantitative", "axis": {"orient": "right", "labels": false, "title": null, "grid": false, "values": [0, 50, 100, 150, 200, 250, 300]}},
    "x2": {"field": "x2"}, "y2": {"field": "z2"},
    "color": {"field": "c", "type": "quantitative", "scale": {"domain": [0, 1], "range": ["#46388f", "#4a4fa3", "#4666b5", "#3f86cc", "#1ea6dc", "#14b8b8", "#5cbf82", "#a8c044", "#eeb03a", "#f7cf2e", "#f4e81c"]},
     "legend": {"title": null, "orient": "right", "offset": 0, "padding": 5, "gradientLength": 467, "gradientThickness": 27, "gradientStrokeColor": "#262626", "gradientStrokeWidth": 1, "values": [0, 0.2, 0.4, 0.6, 0.8, 1], "labelExpr": "datum.value === 0 ? '0' : format(datum.value, '.1f')", "labelOffset": 9}}}},
  {"data": {"values": [{"label": "χ = 0.20"}]}, "mark": {"type": "rect", "fill": "white", "stroke": "black", "strokeWidth": 1},
   "encoding": {"x": {"datum": -40, "axis": null}, "x2": {"datum": -19.4}, "y": {"datum": 231, "axis": null}, "y2": {"datum": 300}}},
  {"data": {"values": [{"label": "χ = 0.20"}]}, "mark": {"type": "text", "angle": 270, "fontSize": 21, "color": "black"},
   "encoding": {"x": {"datum": -29.7, "axis": null}, "y": {"datum": 265.5, "axis": null}, "text": {"field": "label"}}}
 ]},
{"width": 128, "height": 476, "resolve": {"axis": {"x": "independent", "y": "independent"}},
 "layer": [
  {"data": {"name": "g2"}, "mark": {"type": "rule", "stroke": "#cfcfcf", "strokeWidth": 2.5, "clip": true},
   "encoding": {"x": {"field": "x", "type": "quantitative", "scale": {"domain": [-40, 40], "nice": false}, "axis": {"title": "x̃ (mm)", "values": [-40, -20, 0, 20, 40], "grid": true, "titlePadding": 8}},
    "y": {"field": "z", "type": "quantitative", "scale": {"domain": [0, 300], "nice": false}, "axis": {"title": null, "values": [0, 50, 100, 150, 200, 250, 300], "grid": true}},
    "x2": {"field": "x2"}, "y2": {"field": "z2"}}},
  {"data": {"name": "c2"}, "mark": {"type": "rule", "strokeWidth": 5, "strokeCap": "round", "clip": true},
   "encoding": {"x": {"field": "x", "type": "quantitative", "axis": {"orient": "top", "labels": false, "title": null, "grid": false, "values": [-40, -20, 0, 20, 40]}},
    "y": {"field": "z", "type": "quantitative", "axis": {"orient": "right", "labels": false, "title": null, "grid": false, "values": [0, 50, 100, 150, 200, 250, 300]}},
    "x2": {"field": "x2"}, "y2": {"field": "z2"},
    "color": {"field": "c", "type": "quantitative", "scale": {"domain": [0, 1], "range": ["#46388f", "#4a4fa3", "#4666b5", "#3f86cc", "#1ea6dc", "#14b8b8", "#5cbf82", "#a8c044", "#eeb03a", "#f7cf2e", "#f4e81c"]}, "legend": null}}},
  {"data": {"values": [{"label": "χ = 0.29"}]}, "mark": {"type": "rect", "fill": "white", "stroke": "black", "strokeWidth": 1},
   "encoding": {"x": {"datum": -40, "axis": null}, "x2": {"datum": -19.4}, "y": {"datum": 231, "axis": null}, "y2": {"datum": 300}}},
  {"data": {"values": [{"label": "χ = 0.29"}]}, "mark": {"type": "text", "angle": 270, "fontSize": 21, "color": "black"},
   "encoding": {"x": {"datum": -29.7, "axis": null}, "y": {"datum": 265.5, "axis": null}, "text": {"field": "label"}}}
 ]},
{"width": 128, "height": 476, "resolve": {"axis": {"x": "independent", "y": "independent"}},
 "layer": [
  {"data": {"name": "g3"}, "mark": {"type": "rule", "stroke": "#cfcfcf", "strokeWidth": 2.5, "clip": true},
   "encoding": {"x": {"field": "x", "type": "quantitative", "scale": {"domain": [-40, 40], "nice": false}, "axis": {"title": "x̃ (mm)", "values": [-40, -20, 0, 20, 40], "grid": true, "titlePadding": 8}},
    "y": {"field": "z", "type": "quantitative", "scale": {"domain": [0, 300], "nice": false}, "axis": {"title": null, "values": [0, 50, 100, 150, 200, 250, 300], "grid": true}},
    "x2": {"field": "x2"}, "y2": {"field": "z2"}}},
  {"data": {"name": "c3"}, "mark": {"type": "rule", "strokeWidth": 5, "strokeCap": "round", "clip": true},
   "encoding": {"x": {"field": "x", "type": "quantitative", "axis": {"orient": "top", "labels": false, "title": null, "grid": false, "values": [-40, -20, 0, 20, 40]}},
    "y": {"field": "z", "type": "quantitative", "axis": {"orient": "right", "labels": false, "title": null, "grid": false, "values": [0, 50, 100, 150, 200, 250, 300]}},
    "x2": {"field": "x2"}, "y2": {"field": "z2"},
    "color": {"field": "c", "type": "quantitative", "scale": {"domain": [0, 1], "range": ["#46388f", "#4a4fa3", "#4666b5", "#3f86cc", "#1ea6dc", "#14b8b8", "#5cbf82", "#a8c044", "#eeb03a", "#f7cf2e", "#f4e81c"]}, "legend": null}}},
  {"data": {"values": [{"label": "χ = 0.40"}]}, "mark": {"type": "rect", "fill": "white", "stroke": "black", "strokeWidth": 1},
   "encoding": {"x": {"datum": -40, "axis": null}, "x2": {"datum": -19.4}, "y": {"datum": 231, "axis": null}, "y2": {"datum": 300}}},
  {"data": {"values": [{"label": "χ = 0.40"}]}, "mark": {"type": "text", "angle": 270, "fontSize": 21, "color": "black"},
   "encoding": {"x": {"datum": -29.7, "axis": null}, "y": {"datum": 265.5, "axis": null}, "text": {"field": "label"}}}
 ]},
{"width": 128, "height": 476, "resolve": {"axis": {"x": "independent", "y": "independent"}},
 "layer": [
  {"data": {"name": "g4"}, "mark": {"type": "rule", "stroke": "#cfcfcf", "strokeWidth": 2.5, "clip": true},
   "encoding": {"x": {"field": "x", "type": "quantitative", "scale": {"domain": [-40, 40], "nice": false}, "axis": {"title": "x̃ (mm)", "values": [-40, -20, 0, 20, 40], "grid": true, "titlePadding": 8}},
    "y": {"field": "z", "type": "quantitative", "scale": {"domain": [0, 300], "nice": false}, "axis": {"title": null, "values": [0, 50, 100, 150, 200, 250, 300], "grid": true}},
    "x2": {"field": "x2"}, "y2": {"field": "z2"}}},
  {"data": {"name": "c4"}, "mark": {"type": "rule", "strokeWidth": 5, "strokeCap": "round", "clip": true},
   "encoding": {"x": {"field": "x", "type": "quantitative", "axis": {"orient": "top", "labels": false, "title": null, "grid": false, "values": [-40, -20, 0, 20, 40]}},
    "y": {"field": "z", "type": "quantitative", "axis": {"orient": "right", "labels": false, "title": null, "grid": false, "values": [0, 50, 100, 150, 200, 250, 300]}},
    "x2": {"field": "x2"}, "y2": {"field": "z2"},
    "color": {"field": "c", "type": "quantitative", "scale": {"domain": [0, 1], "range": ["#46388f", "#4a4fa3", "#4666b5", "#3f86cc", "#1ea6dc", "#14b8b8", "#5cbf82", "#a8c044", "#eeb03a", "#f7cf2e", "#f4e81c"]}, "legend": null}}},
  {"data": {"values": [{"label": "χ = 0.57"}]}, "mark": {"type": "rect", "fill": "white", "stroke": "black", "strokeWidth": 1},
   "encoding": {"x": {"datum": -40, "axis": null}, "x2": {"datum": -19.4}, "y": {"datum": 231, "axis": null}, "y2": {"datum": 300}}},
  {"data": {"values": [{"label": "χ = 0.57"}]}, "mark": {"type": "text", "angle": 270, "fontSize": 21, "color": "black"},
   "encoding": {"x": {"datum": -29.7, "axis": null}, "y": {"datum": 265.5, "axis": null}, "text": {"field": "label"}}}
 ]},
{"width": 128, "height": 476, "resolve": {"axis": {"x": "independent", "y": "independent"}},
 "layer": [
  {"data": {"name": "g5"}, "mark": {"type": "rule", "stroke": "#cfcfcf", "strokeWidth": 2.5, "clip": true},
   "encoding": {"x": {"field": "x", "type": "quantitative", "scale": {"domain": [-40, 40], "nice": false}, "axis": {"title": "x̃ (mm)", "values": [-40, -20, 0, 20, 40], "grid": true, "titlePadding": 8}},
    "y": {"field": "z", "type": "quantitative", "scale": {"domain": [0, 300], "nice": false}, "axis": {"title": null, "values": [0, 50, 100, 150, 200, 250, 300], "grid": true}},
    "x2": {"field": "x2"}, "y2": {"field": "z2"}}},
  {"data": {"name": "c5"}, "mark": {"type": "rule", "strokeWidth": 5, "strokeCap": "round", "clip": true},
   "encoding": {"x": {"field": "x", "type": "quantitative", "axis": {"orient": "top", "labels": false, "title": null, "grid": false, "values": [-40, -20, 0, 20, 40]}},
    "y": {"field": "z", "type": "quantitative", "axis": {"orient": "right", "labels": false, "title": null, "grid": false, "values": [0, 50, 100, 150, 200, 250, 300]}},
    "x2": {"field": "x2"}, "y2": {"field": "z2"},
    "color": {"field": "c", "type": "quantitative", "scale": {"domain": [0, 1], "range": ["#46388f", "#4a4fa3", "#4666b5", "#3f86cc", "#1ea6dc", "#14b8b8", "#5cbf82", "#a8c044", "#eeb03a", "#f7cf2e", "#f4e81c"]}, "legend": null}}},
  {"data": {"values": [{"label": "χ = 0.75"}]}, "mark": {"type": "rect", "fill": "white", "stroke": "black", "strokeWidth": 1},
   "encoding": {"x": {"datum": -40, "axis": null}, "x2": {"datum": -19.4}, "y": {"datum": 231, "axis": null}, "y2": {"datum": 300}}},
  {"data": {"values": [{"label": "χ = 0.75"}]}, "mark": {"type": "text", "angle": 270, "fontSize": 21, "color": "black"},
   "encoding": {"x": {"datum": -29.7, "axis": null}, "y": {"datum": 265.5, "axis": null}, "text": {"field": "label"}}}
 ]}
]
}
